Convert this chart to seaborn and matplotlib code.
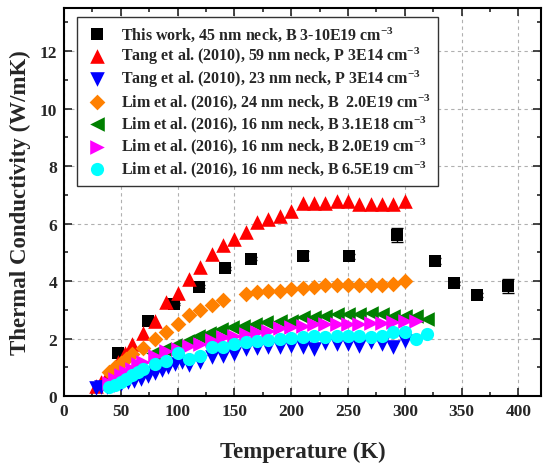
import matplotlib
matplotlib.use("Agg")
import matplotlib.pyplot as plt
import seaborn as sns
import pandas as pd
from matplotlib.ticker import MultipleLocator

# ---- data ----
this_T = [48, 74, 97, 119, 142, 165, 210, 251, 293, 327, 343, 364, 391]
this_k = [1.5, 2.6, 3.2, 3.8, 4.45, 4.78, 4.88, 4.86, 5.6, 4.7, 3.93, 3.52, 3.82]
this_err = [0.05, 0.05, 0.05, 0.05, 0.05, 0.05, 0.15, 0.08, 0.25, 0.12, 0.05, 0.08, 0.25]

tang59_T = [28, 33, 38, 43, 48, 54, 60, 70, 80, 90, 100, 110, 120, 130, 140, 150, 160,
            170, 180, 190, 200, 210, 220, 230, 240, 250, 260, 270, 280, 290, 300]
tang59_k = [0.35, 0.5, 0.7, 0.9, 1.2, 1.5, 1.8, 2.18, 2.62, 3.27, 3.6, 4.08, 4.5, 4.95,
            5.24, 5.47, 5.7, 6.05, 6.17, 6.27, 6.45, 6.7, 6.72, 6.72, 6.78, 6.8, 6.68,
            6.68, 6.68, 6.68, 6.8]

tang23_T = [28, 33, 38, 44, 50, 56, 62, 68, 74, 80, 86, 92, 98, 104, 110, 120, 130, 140,
            150, 160, 170, 180, 190, 200, 210, 220, 230, 240, 250, 260, 270, 280, 290, 300]
tang23_k = [0.28, 0.3, 0.33, 0.37, 0.42, 0.47, 0.52, 0.6, 0.7, 0.8, 0.9, 1.0, 1.1, 1.2,
            1.08, 1.2, 1.35, 1.4, 1.46, 1.62, 1.68, 1.7, 1.72, 1.75, 1.7, 1.64, 1.85,
            1.8, 1.8, 1.75, 1.88, 1.8, 1.7, 1.92]

lim24_T = [40, 45, 50, 55, 60, 70, 80, 90, 100, 110, 120, 130, 140, 160, 170, 180, 190,
           200, 210, 220, 230, 240, 250, 260, 270, 280, 290, 300]
lim24_k = [0.85, 1.0, 1.15, 1.3, 1.46, 1.66, 1.99, 2.23, 2.5, 2.82, 3.0, 3.17, 3.35,
           3.55, 3.62, 3.66, 3.66, 3.72, 3.75, 3.8, 3.85, 3.86, 3.86, 3.86, 3.86, 3.86,
           3.9, 4.0]

lim16a_T = [78, 88, 98, 108, 118, 128, 138, 148, 158, 168, 178, 190, 200, 210, 220, 230,
            240, 250, 260, 270, 280, 290, 300, 310, 320]
lim16a_k = [1.5, 1.62, 1.78, 1.92, 2.08, 2.2, 2.32, 2.4, 2.45, 2.5, 2.58, 2.6, 2.62, 2.75,
            2.75, 2.8, 2.85, 2.85, 2.85, 2.9, 2.85, 2.8, 2.8, 2.8, 2.68]

lim16b_T = [40, 45, 50, 55, 60, 65, 70, 80, 90, 100, 110, 120, 130, 140, 150, 160, 170,
            180, 190, 200, 210, 220, 230, 240, 250, 260, 270, 280, 290, 300, 310]
lim16b_k = [0.45, 0.6, 0.72, 0.83, 0.95, 1.1, 1.2, 1.38, 1.55, 1.65, 1.74, 1.82, 1.95,
            2.05, 2.1, 2.16, 2.23, 2.27, 2.35, 2.4, 2.44, 2.5, 2.5, 2.5, 2.5, 2.5, 2.55,
            2.55, 2.58, 2.6, 2.6]

lim16c_T = [40, 45, 50, 55, 60, 65, 70, 80, 90, 100, 110, 120, 130, 140, 150, 160, 170,
            180, 190, 200, 210, 220, 230, 240, 250, 260, 270, 280, 290, 300, 310, 320]
lim16c_k = [0.3, 0.4, 0.48, 0.6, 0.72, 0.82, 0.95, 1.1, 1.22, 1.5, 1.3, 1.4, 1.7, 1.72,
            1.8, 1.87, 1.9, 1.95, 1.98, 2.03, 2.05, 2.1, 2.05, 2.1, 2.1, 2.1, 2.05, 2.1,
            2.22, 2.22, 1.98, 2.15]

labels = [
    "This work, 45 nm neck, B 3-10E19 cm$^{-3}$",
    "Tang et al. (2010), 59 nm neck, P 3E14 cm$^{-3}$",
    "Tang et al. (2010), 23 nm neck, P 3E14 cm$^{-3}$",
    "Lim et al. (2016), 24 nm neck, B  2.0E19 cm$^{-3}$",
    "Lim et al. (2016), 16 nm neck, B 3.1E18 cm$^{-3}$",
    "Lim et al. (2016), 16 nm neck, B 2.0E19 cm$^{-3}$",
    "Lim et al. (2016), 16 nm neck, B 6.5E19 cm$^{-3}$",
]
x_ticks = [0, 50, 100, 150, 200, 250, 300, 350, 400]
y_ticks = [0, 2, 4, 6, 8, 10, 12]

# ---- style ----
sns.set_style("ticks")
plt.rcParams["font.family"] = ["Liberation Serif", "DejaVu Serif"]
plt.rcParams["font.weight"] = "bold"
plt.rcParams["mathtext.fontset"] = "custom"
plt.rcParams["mathtext.rm"] = "Liberation Serif:bold"
plt.rcParams["mathtext.bf"] = "Liberation Serif:bold"
plt.rcParams["mathtext.it"] = "Liberation Serif:bold:italic"

fig = plt.figure(figsize=(5.44, 4.64), dpi=100)
ax = fig.add_axes([0.1176, 0.1444, 0.877, 0.836])

series = [
    (this_T, this_k, "s", "black", 9.0),
    (tang59_T, tang59_k, "^", "red", 10.5),
    (tang23_T, tang23_k, "v", "blue", 10.5),
    (lim24_T, lim24_k, "D", "#ff8000", 8.0),
    (lim16a_T, lim16a_k, "<", "green", 10.5),
    (lim16b_T, lim16b_k, ">", "magenta", 10.5),
    (lim16c_T, lim16c_k, "o", "cyan", 9.5),
]

ax.errorbar(this_T, this_k, yerr=this_err, fmt="none", ecolor="black",
            elinewidth=1.0, capsize=4, capthick=1.0, zorder=2)

for i, ((T, k, m, c, ms), lab) in enumerate(zip(series, labels)):
    df = pd.DataFrame({"T": T, "k": k})
    sns.scatterplot(data=df, x="T", y="k", marker=m, color=c, s=ms ** 2,
                    linewidth=0, ax=ax, label=lab, zorder=3 + i)

ax.set_xlim(0, 420)
ax.set_ylim(0, 13.5)
ax.set_xticks(x_ticks)
ax.set_yticks(y_ticks)
ax.xaxis.set_minor_locator(MultipleLocator(25))
ax.yaxis.set_minor_locator(MultipleLocator(1))
ax.tick_params(which="both", direction="in", top=True, right=True, width=1.2)
ax.tick_params(which="major", length=6, labelsize=12.5, pad=5)
ax.tick_params(which="minor", length=3)
for lab in ax.get_xticklabels() + ax.get_yticklabels():
    lab.set_fontweight("bold")
for sp in ax.spines.values():
    sp.set_linewidth(1.5)
    sp.set_color("black")
ax.grid(True, which="major", linestyle=(0, (3, 3)), color="#b0b0b0", linewidth=0.8)
ax.set_axisbelow(True)

ax.set_xlabel("Temperature (K)", fontsize=16.5, fontweight="bold", labelpad=16)
ax.set_ylabel("Thermal Conductivity (W/mK)", fontsize=16.5, fontweight="bold", labelpad=6)

leg = ax.legend(loc="upper left", bbox_to_anchor=(0.027, 0.977), borderaxespad=0,
                fontsize=11.5, frameon=True, fancybox=False, edgecolor="#333333",
                framealpha=1, labelspacing=0.12, handletextpad=0.7, borderpad=0.45,
                handlelength=1.6, markerscale=1.0)
leg.get_frame().set_linewidth(1.0)
leg.set_zorder(20)
for t in leg.get_texts():
    t.set_fontweight("bold")

fig.savefig("out.png", dpi=100)
